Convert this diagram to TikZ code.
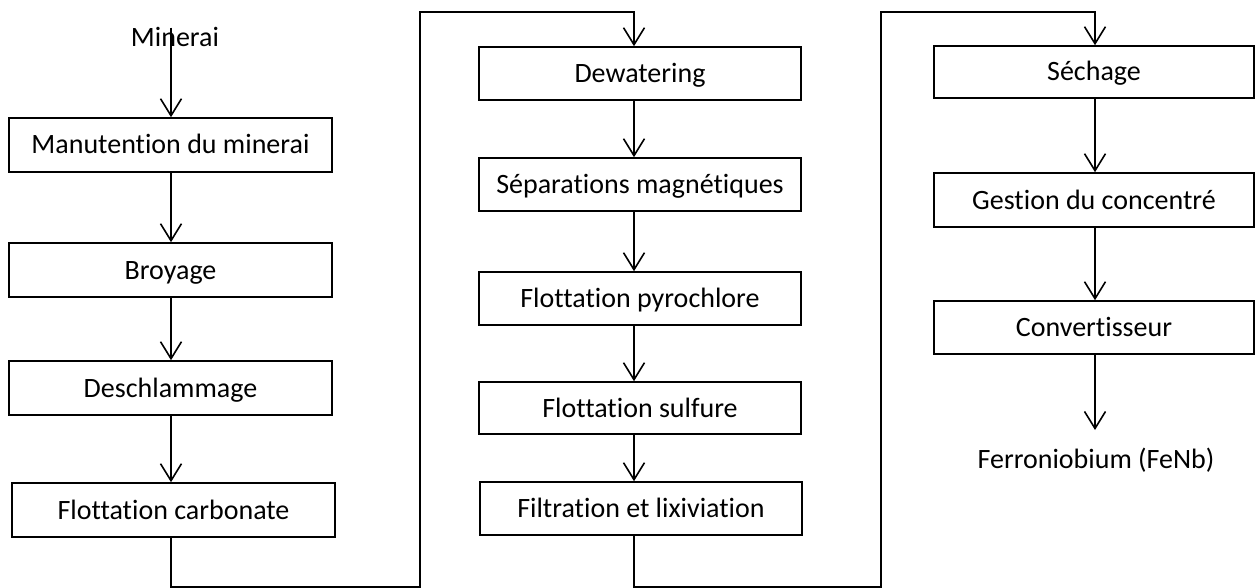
\documentclass[tikz,border=0pt]{standalone}
\usepackage{fontspec}
\setmainfont{Carlito}[Ligatures=NoCommon]
\usetikzlibrary{arrows.meta}
\begin{document}
\begin{tikzpicture}[x=1pt,y=-1pt,
  stepbox/.style={draw=black, line width=1.6pt, inner sep=0pt, minimum height=54pt,
    text height=18pt, text depth=0pt, font=\fontsize{28}{32}\selectfont},
  plaintext/.style={inner sep=0pt, font=\fontsize{28}{32}\selectfont},
  flowarrow/.style={draw=black, line width=1.6pt,
    -{Straight Barb[length=17pt,width=21pt,line width=1.6pt]}},
]
\useasboundingbox (0,0) rectangle (1255,588);
\fill[white] (0,0) rectangle (1255,588);

% column x for connectors
\coordinate (c1) at (171,0);
\coordinate (c2) at (634,0);
\coordinate (c3) at (1095,0);

% column 1
\node[plaintext, anchor=base] (min) at (175,47) {Minerai};
\node[stepbox, minimum width=323pt] (man) at (170.5,145) {Manutention du minerai};
\node[stepbox, minimum width=323pt] (broy) at (170.5,270) {Broyage};
\node[stepbox, minimum width=323pt] (desch) at (170.5,388) {Deschlammage};
\node[stepbox, minimum width=323pt] (fc) at (173.5,510) {Flottation carbonate};

% column 2
\node[stepbox, minimum width=322pt, minimum height=53pt] (dew) at (640,73.5) {Dewatering};
\node[stepbox, minimum width=322pt, minimum height=53pt] (sep) at (640,184.5) {Séparations magnétiques};
\node[stepbox, minimum width=322pt, minimum height=53pt] (pyro) at (640,298.5) {Flottation pyrochlore};
\node[stepbox, minimum width=322pt, minimum height=52pt] (sulf) at (640,408) {Flottation sulfure};
\node[stepbox, minimum width=322pt, minimum height=53pt] (filt) at (641,508.5) {Filtration et lixiviation};

% column 3
\node[stepbox, minimum width=320pt, minimum height=52pt] (sech) at (1094,72) {Séchage};
\node[stepbox, minimum width=320pt, minimum height=54pt] (gest) at (1094,200) {Gestion du concentré};
\node[stepbox, minimum width=320pt, minimum height=53pt] (conv) at (1094,327.5) {Convertisseur};
\node[plaintext, anchor=base] (fenb) at (1096,468) {Ferroniobium (FeNb)};
\coordinate (fenbin) at (1095,430);

% loop turning points
\coordinate (l1b) at (420,587);
\coordinate (l1c) at (420,12);
\coordinate (l2b) at (881,587);
\coordinate (l2c) at (881,12);

% connectors column 1
\draw[flowarrow] (min.north -| c1) -- (man.north -| c1);
\draw[flowarrow] (man.south -| c1) -- (broy.north -| c1);
\draw[flowarrow] (broy.south -| c1) -- (desch.north -| c1);
\draw[flowarrow] (desch.south -| c1) -- (fc.north -| c1);
\draw[flowarrow] (fc.south -| c1) |- (l1b) -- (l1c) -| (dew.north -| c2);

% connectors column 2
\draw[flowarrow] (dew.south -| c2) -- (sep.north -| c2);
\draw[flowarrow] (sep.south -| c2) -- (pyro.north -| c2);
\draw[flowarrow] (pyro.south -| c2) -- (sulf.north -| c2);
\draw[flowarrow] (sulf.south -| c2) -- (filt.north -| c2);
\draw[flowarrow] (filt.south -| c2) |- (l2b) -- (l2c) -| (sech.north -| c3);

% connectors column 3
\draw[flowarrow] (sech.south -| c3) -- (gest.north -| c3);
\draw[flowarrow] (gest.south -| c3) -- (conv.north -| c3);
\draw[flowarrow] (conv.south -| c3) -- (fenbin);
\end{tikzpicture}
\end{document}
